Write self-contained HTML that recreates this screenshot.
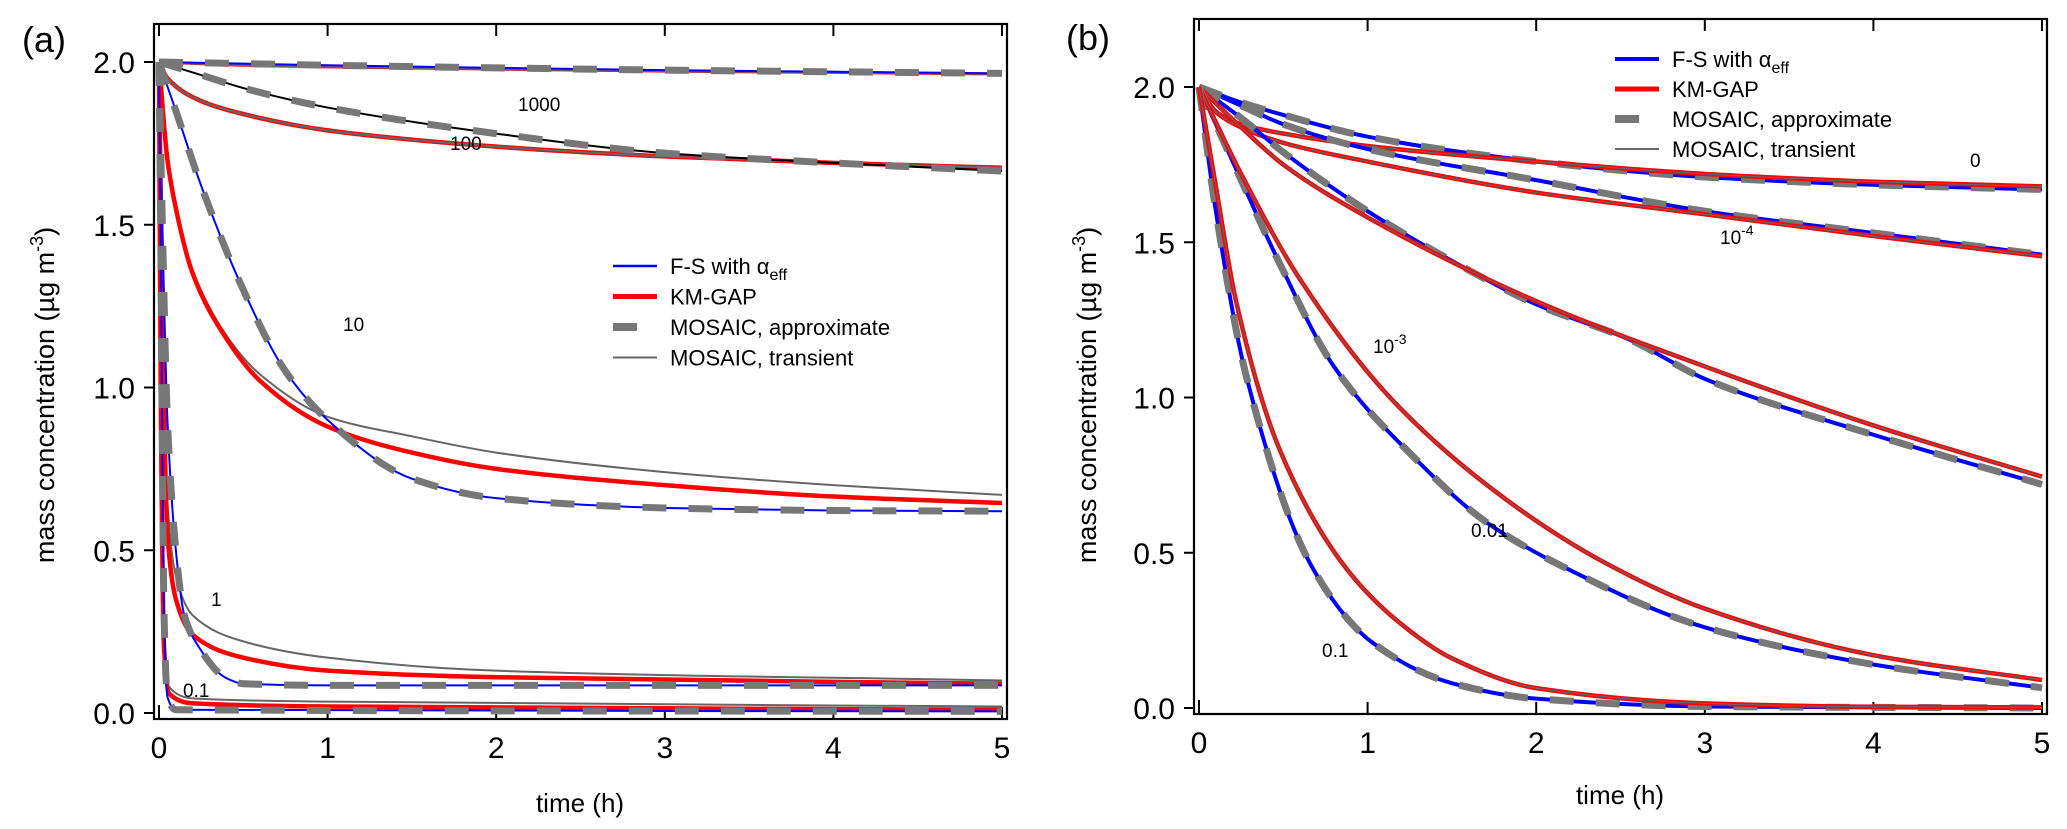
<!DOCTYPE html>
<html><head><meta charset="utf-8">
<style>
html,body{margin:0;padding:0;background:#fff;}
svg{display:block;font-family:"Liberation Sans",Arial,sans-serif;}
</style></head>
<body>
<svg id="chart" width="2067" height="829" viewBox="0 0 2067 829" xmlns="http://www.w3.org/2000/svg"></svg>
<script>
// ---------- data: panel (a) ----------
const xTicks = [0,1,2,3,4,5];
const yTicksA = [0.0,0.5,1.0,1.5,2.0];
const yTicksB = [0.0,0.5,1.0,1.5,2.0];

const tA1000 = [0,0.5,1,2,3,4,5];
const fsA1000 = [2.0,1.995,1.99,1.982,1.975,1.97,1.965];
const kmA1000 = [2.0,1.99,1.985,1.978,1.972,1.968,1.963];

const tA100fs = [0,0.25,0.5,1,2,3,4,5];
const fsA100 = [2.0,1.96,1.92,1.86,1.78,1.72,1.69,1.665];
const tA100km = [0,0.05,0.25,0.5,1,2,3,4,5];
const kmA100 = [2.0,1.95,1.88,1.84,1.79,1.74,1.71,1.69,1.675];

const tA10fs = [0,0.1,0.25,0.5,0.75,1,1.5,2,3,4,5];
const fsA10 = [2.0,1.85,1.62,1.3,1.05,0.9,0.72,0.66,0.63,0.622,0.62];
const tA10km = [0,0.05,0.1,0.2,0.4,0.6,1,1.5,2,3,4,5];
const kmA10 = [2.0,1.7,1.55,1.35,1.15,1.02,0.88,0.8,0.75,0.7,0.665,0.645];
const trA10 = [2.0,1.7,1.55,1.36,1.16,1.04,0.91,0.85,0.8,0.74,0.7,0.67];

const tA1fs = [0,0.02,0.05,0.1,0.15,0.24,0.39,0.5,1,5];
const fsA1 = [2.0,1.5,0.9,0.5,0.3,0.2,0.11,0.09,0.085,0.085];
const tA1km = [0,0.02,0.05,0.1,0.2,0.5,1,2,5];
const kmA1 = [2.0,1.2,0.55,0.35,0.24,0.17,0.13,0.11,0.09];
const trA1 = [2.0,1.3,0.65,0.42,0.3,0.22,0.17,0.13,0.1];

const tA01fs = [0,0.01,0.02,0.03,0.05,0.1,5];
const fsA01 = [2.0,1.5,0.8,0.3,0.05,0.01,0.005];
const tA01km = [0,0.01,0.03,0.06,0.2,1,5];
const kmA01 = [2.0,1.0,0.2,0.06,0.03,0.02,0.01];
const trA01 = [2.0,1.05,0.25,0.08,0.045,0.035,0.02];

// ---------- data: panel (b) ----------
const tB0fs = [0,0.25,0.5,1,2,3,4,5];
const fsB0 = [2.0,1.95,1.91,1.84,1.76,1.71,1.685,1.67];
const tB0km = [0,0.1,0.25,0.5,1,2,3,4,5];
const kmB0 = [2.0,1.92,1.88,1.85,1.81,1.76,1.72,1.695,1.68];

const tB4fs = [0,0.25,0.5,1,2,3,4,5];
const fsB4 = [2.0,1.94,1.88,1.8,1.7,1.6,1.53,1.46];
const tB4km = [0,0.1,0.25,0.5,1,2,3,4,5];
const kmB4 = [2.0,1.92,1.87,1.82,1.76,1.66,1.59,1.52,1.455];

const tB3fs = [0,0.25,0.5,1,1.5,2,2.56,3,4,5];
const fsB3 = [2.0,1.9,1.79,1.6,1.44,1.3,1.185,1.06,0.88,0.72];
const tB3km = [0,0.25,0.5,1,2,3,4,5];
const kmB3 = [2.0,1.87,1.75,1.58,1.31,1.1,0.91,0.745];

const tB2fs = [0,0.25,0.48,0.8,1.27,1.7,2.16,3,4,5];
const fsB2 = [2.0,1.7,1.43,1.1,0.81,0.6,0.455,0.26,0.14,0.065];
const tB2km = [0,0.25,0.6,1.15,1.8,2.4,3,4,5];
const kmB2 = [2.0,1.72,1.38,0.99,0.68,0.47,0.32,0.17,0.09];

const tB1fs = [0,0.1,0.28,0.68,1.03,1.5,2,3,5];
const fsB1 = [2.0,1.6,1.07,0.445,0.21,0.08,0.03,0.005,0.0];
const tB1km = [0,0.1,0.22,0.48,0.88,1.2,1.5,2,3,4,5];
const kmB1 = [2.0,1.68,1.31,0.83,0.445,0.27,0.16,0.064,0.015,0.004,0.002];

const labelsA = ["1000","100","10","1","0.1"];
const labelsB = ["0","10-4","10-3","0.01","0.1"];
const legendNames = ["F-S with α","KM-GAP","MOSAIC, approximate","MOSAIC, transient"];

// ---------- rendering ----------
const NS="http://www.w3.org/2000/svg";
const svg=document.getElementById('chart');
function el(tag,attrs,parent){const e=document.createElementNS(NS,tag);for(const k in attrs)e.setAttribute(k,attrs[k]);(parent||svg).appendChild(e);return e;}

function monotonePath(pts){
  const n=pts.length; if(n<2) return '';
  const dx=[],dy=[],m=[];
  for(let i=0;i<n-1;i++){dx.push(pts[i+1][0]-pts[i][0]);dy.push(pts[i+1][1]-pts[i][1]);m.push(dy[i]/dx[i]);}
  const t=[m[0]];
  for(let i=1;i<n-1;i++){ if(m[i-1]*m[i]<=0) t.push(0); else { const w1=2*dx[i]+dx[i-1], w2=dx[i]+2*dx[i-1]; t.push((w1+w2)/(w1/m[i-1]+w2/m[i])); } }
  t.push(m[n-2]);
  let d='M'+pts[0][0].toFixed(2)+','+pts[0][1].toFixed(2);
  for(let i=0;i<n-1;i++){
    const h=dx[i];
    d+=' C'+(pts[i][0]+h/3).toFixed(2)+','+(pts[i][1]+t[i]*h/3).toFixed(2)+' '+(pts[i+1][0]-h/3).toFixed(2)+','+(pts[i+1][1]-t[i+1]*h/3).toFixed(2)+' '+pts[i+1][0].toFixed(2)+','+pts[i+1][1].toFixed(2);
  }
  return d;
}

function makePanel(cfg){
  const g=el('g',{});
  
  
  const sx=v=>cfg.x0+(cfg.x5-cfg.x0)*v/5;
  const sy=v=>cfg.y0+(cfg.y2-cfg.y0)*v/2;
  cfg.sx=sx; cfg.sy=sy;
  const fr=el('rect',{x:cfg.fl,y:cfg.ft,width:cfg.frr-cfg.fl,height:cfg.fb-cfg.ft,fill:'none',stroke:'#000','stroke-width':2.2},g);
  
  
  xTicks.forEach(v=>{
    const x=sx(v);
    const tk=el('line',{x1:x,x2:x,y1:cfg.fb,y2:cfg.fb-12,stroke:'#000','stroke-width':2},g);
    
    
    const tt=el('line',{x1:x,x2:x,y1:cfg.ft,y2:cfg.ft+12,stroke:'#000','stroke-width':2},g);
    
    
    const lb=el('text',{x:x,y:cfg.fb+39,'font-size':30,'text-anchor':'middle',fill:'#000'},g);
    lb.textContent=String(v);
    
    
  });
  cfg.yTicks.forEach(v=>{
    const y=sy(v);
    const tk=el('line',{x1:cfg.fl-10,x2:cfg.fl,y1:y,y2:y,stroke:'#000','stroke-width':2},g);
    
    
    const lb=el('text',{x:cfg.fl-19,y:y+11,'font-size':30,'text-anchor':'end',fill:'#000'},g);
    lb.textContent=v.toFixed(1);
    
    
  });
  const ot=el('line',{x1:sx(0),x2:sx(0),y1:sy(0)-8,y2:sy(0)+6,stroke:'#000','stroke-width':2},g);
  
  
  const xt=el('text',{x:cfg.xtX,y:cfg.xtY,'font-size':26,'text-anchor':'middle',fill:'#000'},g);
  xt.textContent='time (h)';
  
  
  const yt=el('text',{transform:'translate('+cfg.ytX+','+cfg.ytY+') rotate(-90)','font-size':27,'text-anchor':'middle',fill:'#000'},g);
  yt.innerHTML='mass concentration (µg m<tspan dy="-11" font-size="18">-3</tspan><tspan dy="11">)</tspan>';
  
  
  const pl=el('text',{x:cfg.plX,y:cfg.plY,'font-size':36,fill:'#000'},g);
  pl.textContent=cfg.panelLabel;
  
  
  const cp=el('clipPath',{id:cfg.name+'-clip'},g);
  el('rect',{x:cfg.fl,y:cfg.ft,width:cfg.frr-cfg.fl,height:cfg.fb-cfg.ft},cp);
  cfg.plot=el('g',{'clip-path':'url(#'+cfg.name+'-clip)'},g);
  
  
  cfg.g=g;
  return cfg;
}

function curve(cfg,ts,vs,style,name){
  const pts=ts.map((t,i)=>[cfg.sx(t),cfg.sy(vs[i])]);
  const p=el('path',Object.assign({d:monotonePath(pts),fill:'none','stroke-linecap':'butt','stroke-linejoin':'round'},style),cfg.plot);
  
  
  return p;
}

function curveLabel(cfg,txt,x,y,name){
  const t=el('text',{x:x,y:y,'font-size':19,fill:'#000'},cfg.g);
  const m=txt.match(/^10(-\d)$/);
  if(m){ t.innerHTML='10<tspan dy="-9" font-size="14">'+m[1]+'</tspan>'; }
  else t.textContent=txt;
  
  
}

function legend(cfg,lx,ly,dy,blueW){
  const lg=el('g',{},cfg.g);
  
  
  const styles=[
    {stroke:'#0000ff','stroke-width':blueW},
    {stroke:'#ff0000','stroke-width':5},
    {stroke:'#777777','stroke-width':8},
    {stroke:'#666666','stroke-width':2}
  ];
  legendNames.forEach((nm,i)=>{
    const y=ly+i*dy;
    const x2 = i===2 ? lx+24 : lx+44;
    const s=el('line',Object.assign({x1:lx,x2:x2,y1:y,y2:y},styles[i]),lg);
    
    
    const t=el('text',{x:lx+57,y:y+8,'font-size':22,fill:'#000'},lg);
    if(i===0) t.innerHTML='F-S with α<tspan dy="6" font-size="16">eff</tspan>';
    else t.textContent=nm;
    
    
  });
}

const BLUE={stroke:'#0000ff','stroke-width':2};
const BLUEB={stroke:'#0000ff','stroke-width':4};
const RED={stroke:'#ff0000','stroke-width':4.5};
const REDthin={stroke:'#ff0000','stroke-width':3};
const TR={stroke:'#666666','stroke-width':2};
const BLK={stroke:'#000000','stroke-width':2};
const DASH={stroke:'#777777','stroke-width':7,'stroke-dasharray':'24,22'};

// Panel A
const A=makePanel({name:'panel-a',x0:159,x5:1002,y0:713,y2:62,fl:154,frr:1007,ft:24,fb:719,yTicks:yTicksA,
  xtX:580,xtY:812,ytX:54,ytY:395,plX:22,plY:52,panelLabel:'(a)'});
curve(A,tA1000,kmA1000,REDthin,'km-gap-1000');
curve(A,tA1000,kmA1000,TR,'mosaic-transient-1000');
curve(A,tA1000,fsA1000,BLUE,'fs-1000');
curve(A,tA1000,fsA1000,DASH,'mosaic-approx-1000');
curve(A,tA100km,kmA100,RED,'km-gap-100');
curve(A,tA100km,kmA100,TR,'mosaic-transient-100');
curve(A,tA100fs,fsA100,BLK,'fs-100');
curve(A,tA100fs,fsA100,DASH,'mosaic-approx-100');
curve(A,tA10km,trA10,TR,'mosaic-transient-10');
curve(A,tA10km,kmA10,RED,'km-gap-10');
curve(A,tA10fs,fsA10,BLUE,'fs-10');
curve(A,tA10fs,fsA10,DASH,'mosaic-approx-10');
curve(A,tA1km,trA1,TR,'mosaic-transient-1');
curve(A,tA1km,kmA1,RED,'km-gap-1');
curve(A,tA1fs,fsA1,BLUE,'fs-1');
curve(A,tA1fs,fsA1,DASH,'mosaic-approx-1');
curve(A,tA01km,trA01,TR,'mosaic-transient-0.1');
curve(A,tA01km,kmA01,RED,'km-gap-0.1');
curve(A,tA01fs,fsA01,BLUE,'fs-0.1');
curve(A,tA01fs,fsA01,DASH,'mosaic-approx-0.1');
curveLabel(A,labelsA[0],518,111,'curve-label-1000');
curveLabel(A,labelsA[1],450,150,'curve-label-100');
curveLabel(A,labelsA[2],343,331,'curve-label-10');
curveLabel(A,labelsA[3],211,606,'curve-label-1');
curveLabel(A,labelsA[4],183,697,'curve-label-0.1');
legend(A,613,266,30.5,2.5);

// Panel B
const B=makePanel({name:'panel-b',x0:1199,x5:2042,y0:708,y2:87,fl:1194,frr:2047,ft:19,fb:714,yTicks:yTicksB,
  xtX:1620,xtY:804,ytX:1096,ytY:395,plX:1066,plY:50,panelLabel:'(b)'});
const groupsB=[[tB0fs,fsB0,tB0km,kmB0,'0'],[tB4fs,fsB4,tB4km,kmB4,'1e-4'],[tB3fs,fsB3,tB3km,kmB3,'1e-3'],[tB2fs,fsB2,tB2km,kmB2,'0.01'],[tB1fs,fsB1,tB1km,kmB1,'0.1']];
groupsB.forEach(gp=>{
  curve(B,gp[0],gp[1],BLUEB,'fs-'+gp[4]);
  curve(B,gp[0],gp[1],DASH,'mosaic-approx-'+gp[4]);
  curve(B,gp[2],gp[3],RED,'km-gap-'+gp[4]);
  curve(B,gp[2],gp[3],{stroke:'#666666','stroke-width':1.2},'mosaic-transient-'+gp[4]);
});
curveLabel(B,labelsB[0],1970,167,'curve-label-0');
curveLabel(B,labelsB[1],1720,244,'curve-label-1e-4');
curveLabel(B,labelsB[2],1373,353,'curve-label-1e-3');
curveLabel(B,labelsB[3],1471,537,'curve-label-0.01');
curveLabel(B,labelsB[4],1322,657,'curve-label-0.1');
legend(B,1615,59,30,4);
</script>
</body></html>
